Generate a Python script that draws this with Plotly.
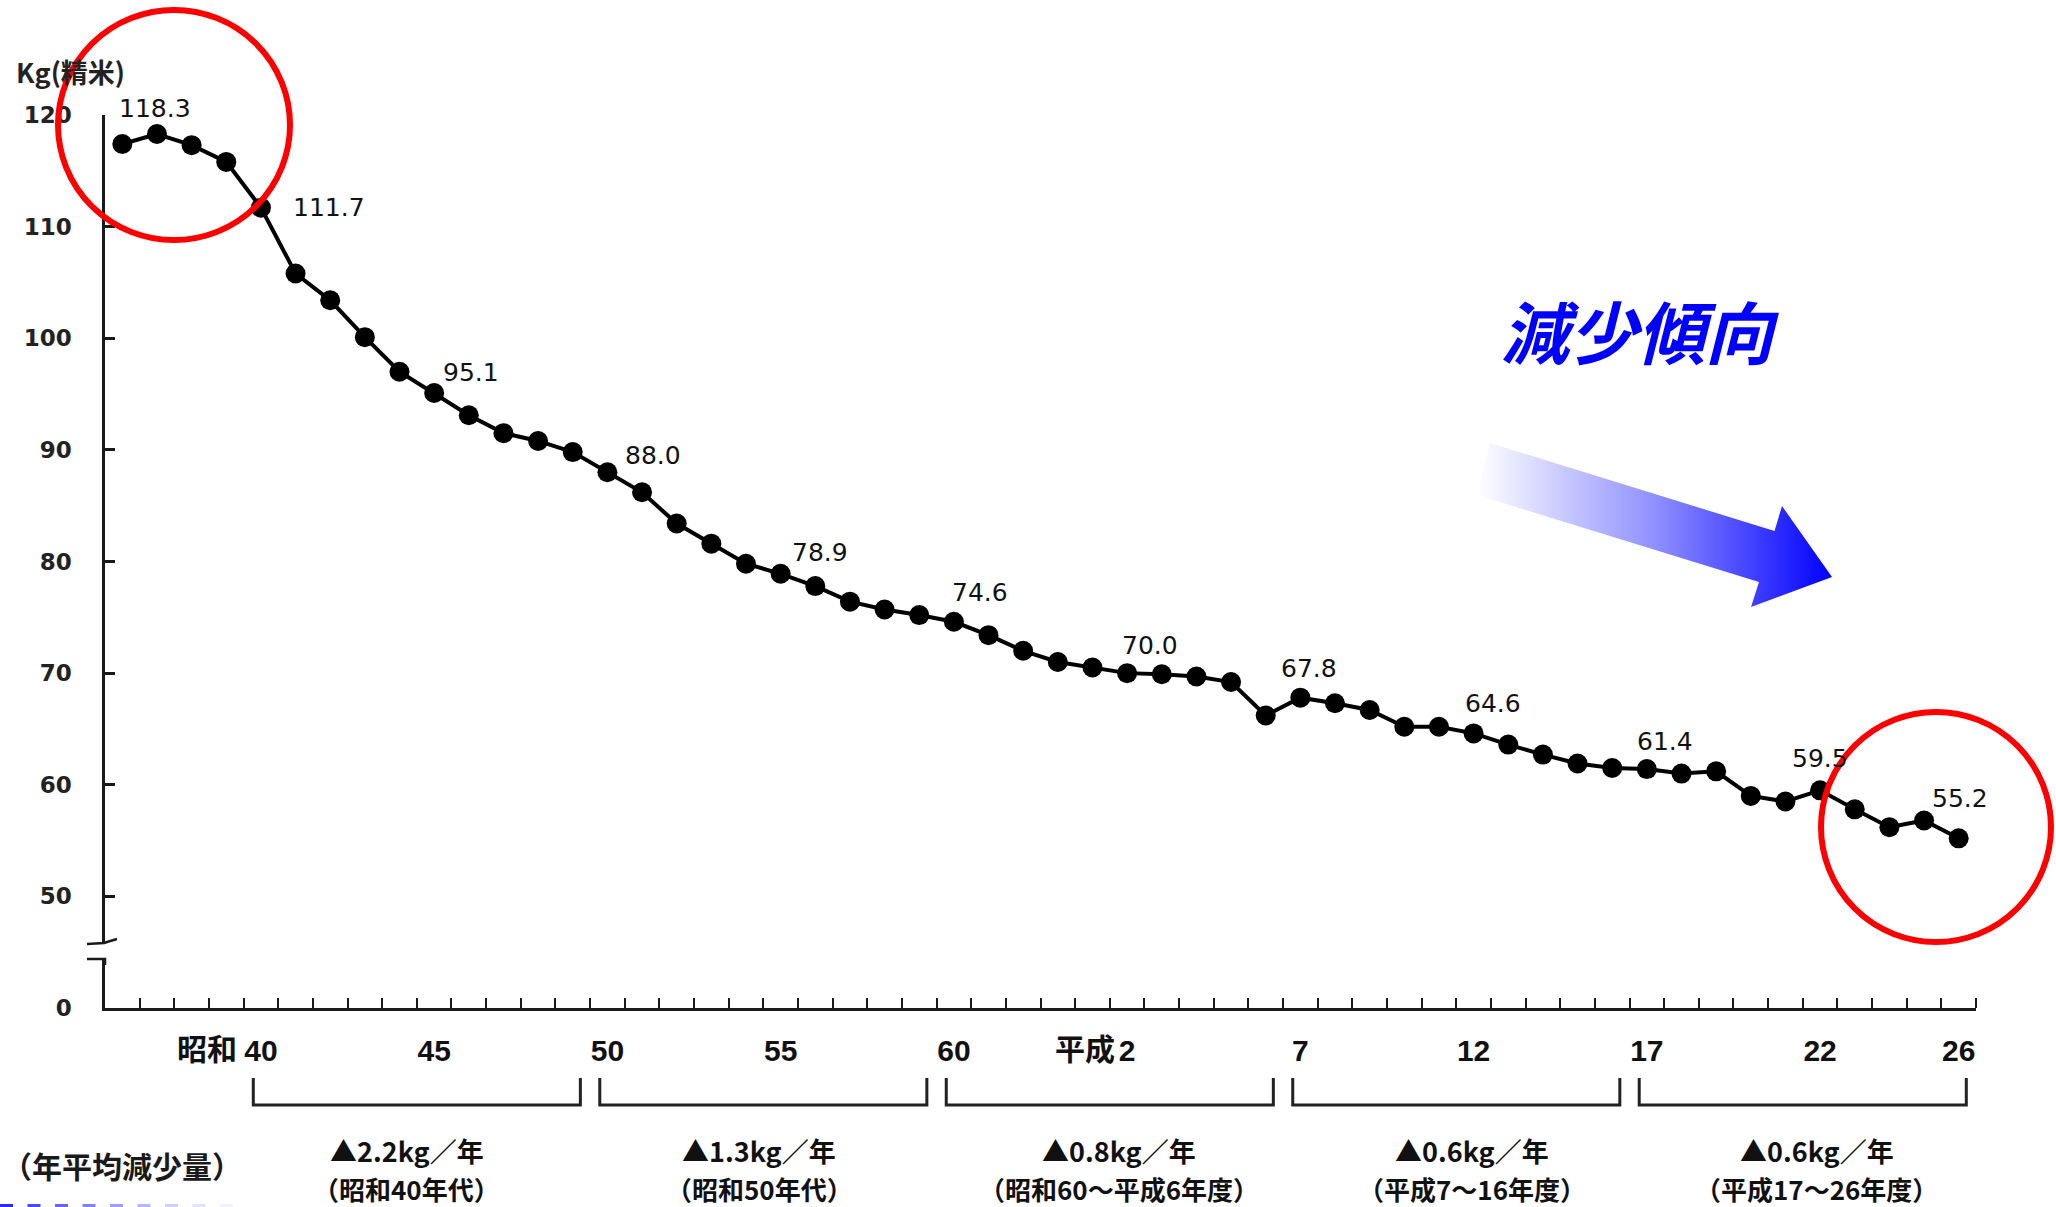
import plotly.graph_objects as go

# ---------------- data ----------------
years = list(range(1961, 2015))  # 昭和36 ... 平成26 (fiscal years)
rice_kg = [117.4, 118.3, 117.3, 115.8, 111.7, 105.8, 103.4, 100.1, 97.0, 95.1,
           93.1, 91.5, 90.8, 89.8, 88.0, 86.2, 83.4, 81.6, 79.8, 78.9,
           77.8, 76.4, 75.7, 75.2, 74.6, 73.4, 72.0, 71.0, 70.5, 70.0,
           69.9, 69.7, 69.2, 66.2, 67.8, 67.3, 66.7, 65.2, 65.2, 64.6,
           63.6, 62.7, 61.9, 61.5, 61.4, 61.0, 61.2, 59.0, 58.5, 59.5,
           57.8, 56.2, 56.8, 55.2]

label_years = [1962, 1965, 1970, 1975, 1980, 1985, 1990, 1995, 2000, 2005, 2010, 2014]

xtick_years = [1965, 1970, 1975, 1980, 1985, 1990, 1995, 2000, 2005, 2010, 2014]
xtick_text = ["40", "45", "50", "55", "60", "2", "7", "12", "17", "22", "26"]
era_prefix = {1965: "昭和", 1990: "平成"}

ytick_vals = [40, 50, 60, 70, 80, 90, 100, 110, 120]
ytick_text = ["0", "50", "60", "70", "80", "90", "100", "110", "120"]

period_ranges = [(1965, 1974), (1975, 1984), (1985, 1994), (1995, 2004), (2005, 2014)]
period_rates = ["▲2.2kg／年", "▲1.3kg／年", "▲0.8kg／年", "▲0.6kg／年", "▲0.6kg／年"]
period_names = ["（昭和40年代）", "（昭和50年代）", "（昭和60～平成6年度）",
                "（平成7～16年度）", "（平成17～26年度）"]

# ---------------- layout geometry / style ----------------
W, H = 2056, 1207
PL, PR, PT, PB = 105, 1976, 115, 1008


def px(x):
    return x / W


def py(y):
    return 1 - y / H


label_offsets = {1962: (-2, 25), 1965: (68, 0), 1970: (37, 20), 1975: (46, 17),
                 1980: (39, 21), 1985: (26, 29), 1990: (23, 28), 1995: (9, 29),
                 2000: (19, 30), 2005: (18, 28), 2010: (0, 32), 2014: (1, 40)}
era_shift = {1965: -22, 1990: -10}
period_xshift = [-10, -4, 9, 16, 14]

AX = "#1a1a1a"
CJK = "Noto Sans CJK JP, Noto Sans CJK SC, sans-serif"

fig = go.Figure()

# gradient arrow (decoration, pixel coordinates on a hidden overlay axis)
arrow_x = [1490, 1774.5, 1782, 1832, 1751, 1759, 1477, 1490]
arrow_y = [443, 531, 506, 577, 607, 582, 495, 443]
fig.add_trace(go.Scatter(
    x=arrow_x, y=arrow_y, xaxis="x2", yaxis="y2", mode="lines",
    fill="toself", line=dict(width=0, color="rgba(0,0,0,0)"),
    fillgradient=dict(type="horizontal",
                      colorscale=[[0, "rgba(255,255,255,1)"], [0.5, "#9090ff"], [1, "#0000ff"]]),
    hoverinfo="skip", showlegend=False))

# main series
fig.add_trace(go.Scatter(
    x=years, y=rice_kg, mode="lines+markers",
    line=dict(color="black", width=4),
    marker=dict(color="black", size=20),
    cliponaxis=False, showlegend=False))

annotations = []
# value labels
for yr in label_years:
    v = rice_kg[years.index(yr)]
    dx, dy = label_offsets[yr]
    annotations.append(dict(x=yr, y=v, xref="x", yref="y", text=f"{v:.1f}",
                            showarrow=False, xanchor="center", yanchor="middle",
                            xshift=dx, yshift=dy,
                            font=dict(family="DejaVu Sans", size=25, color="#111")))

# era prefixes
for yr, txt in era_prefix.items():
    annotations.append(dict(x=yr, y=py(1047), xref="x", yref="paper", text=txt,
                            showarrow=False, xanchor="right", yanchor="middle",
                            xshift=era_shift[yr],
                            font=dict(family=CJK, size=30, color="#111", weight="bold")))

# unit title
annotations.append(dict(x=px(14), y=py(71), xref="paper", yref="paper", text="Kg(精米)",
                        showarrow=False, xanchor="left", yanchor="middle",
                        font=dict(family=CJK, size=27, color="#222", weight="bold")))

# trend text
annotations.append(dict(x=px(1640), y=py(329), xref="paper", yref="paper", text="減少傾向",
                        showarrow=False, xanchor="center", yanchor="middle",
                        font=dict(family=CJK, size=68, color="#0000ff", weight="bold",
                                  style="italic")))

# average decrease table
annotations.append(dict(x=px(0), y=py(1165), xref="paper", yref="paper", text="（年平均減少量）",
                        showarrow=False, xanchor="left", yanchor="middle",
                        font=dict(family=CJK, size=30, color="#1a1a1a", weight="bold")))

shapes = []
for (s, e), rate, name, xs in zip(period_ranges, period_rates, period_names, period_xshift):
    x0, x1 = s - 0.22, e + 0.22
    shapes.append(dict(type="path", xref="x", yref="paper",
                       path=f"M {x0},{py(1078)} L {x0},{py(1105)} L {x1},{py(1105)} L {x1},{py(1078)}",
                       line=dict(color="#222", width=3)))
    c = (s + e) / 2
    annotations.append(dict(x=c, y=py(1150), xref="x", yref="paper", text=rate,
                            showarrow=False, xanchor="center", yanchor="middle", xshift=xs,
                            font=dict(family=CJK, size=27, color="#111", weight="bold")))
    annotations.append(dict(x=c, y=py(1188), xref="x", yref="paper", text=name,
                            showarrow=False, xanchor="center", yanchor="middle", xshift=xs,
                            font=dict(family=CJK, size=26, color="#111", weight="bold")))

# y-axis break
shapes.append(dict(type="rect", xref="paper", yref="paper",
                   x0=px(96), x1=px(114), y0=py(958), y1=py(942),
                   fillcolor="white", line=dict(width=0), layer="above"))
shapes.append(dict(type="path", xref="paper", yref="paper",
                   path=f"M {px(87)},{py(944)} L {px(104)},{py(943)} Q {px(110)},{py(941)} {px(117)},{py(939)}",
                   line=dict(color=AX, width=2.5), layer="above"))
shapes.append(dict(type="path", xref="paper", yref="paper",
                   path=f"M {px(87)},{py(959)} L {px(105)},{py(959)} L {px(105)},{py(965)}",
                   line=dict(color=AX, width=2.5), layer="above"))

# red circles
shapes.append(dict(type="circle", xref="paper", yref="paper",
                   x0=px(58), x1=px(290), y0=py(240), y1=py(10),
                   line=dict(color="#ff0000", width=6), layer="above"))
shapes.append(dict(type="circle", xref="paper", yref="paper",
                   x0=px(1821), x1=px(2051), y0=py(942), y1=py(712),
                   line=dict(color="#ff0000", width=6), layer="above"))

# faded dashed line at the bottom edge
dash_cols = ["#2a2aff", "#4848ff", "#6464ff", "#8080ff", "#9c9cff",
             "#b6b6ff", "#cfcfff", "#e2e2ff", "#f1f1ff"]
for i, col in enumerate(dash_cols):
    x0 = i * 27.5
    shapes.append(dict(type="line", xref="paper", yref="paper",
                       x0=px(x0), x1=px(x0 + 13), y0=py(1205.5), y1=py(1205.5),
                       line=dict(color=col, width=3)))

fig.update_layout(
    width=W, height=H, margin=dict(l=0, r=0, t=0, b=0),
    paper_bgcolor="white", plot_bgcolor="rgba(0,0,0,0)",
    showlegend=False,
    xaxis=dict(domain=[px(PL), px(PR)], range=[1960.5, 2014.5],
               showline=True, linecolor=AX, linewidth=2.5,
               tickmode="array", tickvals=xtick_years, ticktext=xtick_text, ticks="",
               tickfont=dict(family="Liberation Sans, Arial", size=30, color="#111",
                             weight="bold"),
               ticklabelstandoff=14,
               minor=dict(ticks="inside", ticklen=10, tickwidth=2, tickcolor=AX,
                          tickmode="array", tickvals=[yr + 0.5 for yr in years]),
               showgrid=False, zeroline=False, automargin=False, fixedrange=True),
    yaxis=dict(domain=[py(PB), py(PT)], range=[40, 120],
               showline=True, linecolor=AX, linewidth=2.5,
               tickmode="array", tickvals=ytick_vals, ticktext=ytick_text,
               ticks="inside", ticklen=10, tickwidth=2.5, tickcolor=AX,
               tickfont=dict(family="DejaVu Sans", size=23, color="#222", weight="bold"),
               ticklabelstandoff=26,
               showgrid=False, zeroline=False, automargin=False, fixedrange=True),
    xaxis2=dict(domain=[0, 1], range=[0, W], visible=False, anchor="y2", fixedrange=True),
    yaxis2=dict(domain=[0, 1], range=[H, 0], visible=False, anchor="x2", fixedrange=True),
    shapes=shapes, annotations=annotations,
)

fig.write_html("out.html")
